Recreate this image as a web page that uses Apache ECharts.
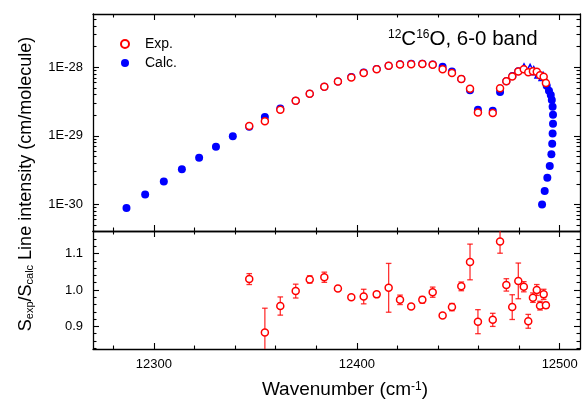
<!DOCTYPE html>
<html><head><meta charset="utf-8">
<script src="https://cdn.jsdelivr.net/npm/echarts@6/dist/echarts.min.js"></script>
<style>html,body{margin:0;padding:0;background:#fff}#c{width:583px;height:401px}</style>
</head><body><div id="c"></div>
<script>
// ---- data ----
const calcWn = [12286.5, 12295.7, 12304.9, 12313.8, 12322.3, 12330.6, 12338.9, 12347.0, 12354.7, 12362.3,
  12369.9, 12376.8, 12384.0, 12390.7, 12397.3, 12403.4, 12409.8, 12415.7, 12421.3, 12426.8,
  12432.3, 12437.4, 12442.3, 12446.9, 12451.5, 12455.8, 12459.7, 12467.0, 12470.6, 12473.7,
  12476.7, 12479.6, 12493.6, 12494.7, 12495.6, 12496.1, 12496.5, 12496.7, 12496.7, 12496.5,
  12496.3, 12495.9, 12495.1, 12493.9, 12492.6, 12491.3];
const calcS = [8.91e-31, 1.40e-30, 2.17e-30, 3.25e-30, 4.81e-30, 6.97e-30, 9.91e-30, 1.355e-29, 1.88e-29, 2.51e-29,
  3.25e-29, 4.12e-29, 5.21e-29, 6.24e-29, 7.23e-29, 8.41e-29, 9.48e-29, 1.052e-28, 1.11e-28, 1.13e-28,
  1.13e-28, 1.097e-28, 1.024e-28, 8.68e-29, 6.76e-29, 4.62e-29, 2.40e-29, 2.32e-29, 4.36e-29, 6.28e-29,
  7.48e-29, 8.79e-29, 5.40e-29, 4.56e-29, 3.94e-29, 3.33e-29, 2.66e-29, 2.03e-29, 1.51e-29, 1.08e-29,
  7.7e-30, 5.39e-30, 3.64e-30, 2.45e-30, 1.57e-30, 1.0e-30];
const headWn = [12482.4, 12485.4, 12487.2, 12489.8, 12491.8];
const headS = [9.80e-29, 9.67e-29, 8.95e-29, 8.00e-29, 7.38e-29];
const expWn = [12347.0, 12354.7, 12362.3, 12369.9, 12376.8, 12384.0, 12390.7, 12397.3, 12403.4, 12409.8,
  12415.7, 12421.3, 12426.8, 12432.3, 12437.4, 12442.3, 12446.9, 12451.5, 12455.8, 12459.7,
  12467.0, 12470.6, 12473.7, 12476.6, 12479.6, 12482.3, 12484.5, 12486.8, 12488.7, 12490.3,
  12492.1, 12493.2];
const expS = [1.40e-29, 1.64e-29, 2.40e-29, 3.25e-29, 4.12e-29, 5.21e-29, 6.24e-29, 7.12e-29, 8.3e-29, 9.4e-29,
  1.052e-28, 1.097e-28, 1.11e-28, 1.12e-28, 1.09e-28, 9.41e-29, 8.28e-29, 6.76e-29, 4.88e-29, 2.19e-29,
  2.15e-29, 4.95e-29, 6.28e-29, 7.38e-29, 8.73e-29, 9.41e-29, 8.45e-29, 8.79e-29, 8.65e-29, 7.69e-29,
  7.31e-29, 5.91e-29];
const ratio = [1.030, 0.883, 0.956, 0.997, 1.029, 1.035, 1.004, 0.980, 0.982, 0.988,
  1.006, 0.973, 0.955, 0.973, 0.994, 0.930, 0.953, 1.010, 1.077, 0.913,
  0.918, 1.133, 1.014, 0.953, 1.025, 1.009, 0.914, 0.979, 1.000, 0.957,
  0.988, 0.958];
const ratioErr = [0.015, 0.067, 0.025, 0.019, 0.010, 0.014, 0.004, 0.004, 0.020, 0.007,
  0.067, 0.013, 0.004, 0.009, 0.014, 0.004, 0.010, 0.012, 0.049, 0.033,
  0.018, 0.032, 0.017, 0.034, 0.049, 0.014, 0.019, 0.013, 0.015, 0.012,
  0.014, 0.008];
const xTickLabels = [12300, 12400, 12500];
const yTopTickExp = [-30, -29, -28];          // decades labelled 1E-30, 1E-29, 1E-28
const yBotTickLabels = [0.9, 1.0, 1.1];

const Y_TOP_MIN = 4.1e-31, Y_TOP_MAX = 6e-28;
const LMIN = Math.log10(Y_TOP_MIN), LMAX = Math.log10(Y_TOP_MAX);

// ---- tick positions ----
const xMinor = []; for (let v = 12280; v <= 12500; v += 20) if (v % 100) xMinor.push(v);
const yTopMinor = [];
[-31, -30, -29, -28].forEach(e => { for (let m = 2; m <= 9; m++) { const v = e + Math.log10(m); if (v > LMIN && v < LMAX) yTopMinor.push(v); } });
const yBotMinor = []; for (let k = 42; k <= 58; k++) { if (k % 5) yBotMinor.push(k / 50); }

const FONT = '"Liberation Sans", Arial, sans-serif';
const X_MIN = 12270, X_MAX = 12510;
const LINE = { color: '#000', width: 1.3 };

function xAx(grid, pos, ticks, len, showLine, labels) {
  return {
    type: 'value', gridIndex: grid, position: pos, min: X_MIN, max: X_MAX,
    axisLine: { show: showLine, onZero: false, lineStyle: LINE },
    axisTick: { show: true, inside: true, length: len, customValues: ticks, lineStyle: { color: '#000', width: 1.1 } },
    axisLabel: labels ? { show: true, customValues: ticks, color: '#000', fontSize: 13, fontFamily: FONT, margin: 9,
      formatter: v => String(v) } : { show: false },
    splitLine: { show: false }
  };
}
// tick/label axes for the log panel (ticks placed in decade units)
function yAxTopTicks(pos, ticks, len, labels) {
  return {
    type: 'value', gridIndex: 0, position: pos, min: LMIN, max: LMAX,
    axisLine: { show: false },
    axisTick: { show: true, inside: true, length: len, customValues: ticks, lineStyle: { color: '#000', width: 1.1 } },
    axisLabel: labels ? { show: true, customValues: ticks, color: '#000', fontSize: 13, fontFamily: FONT, margin: 10,
      formatter: v => '1E' + Math.round(v) } : { show: false },
    splitLine: { show: false }
  };
}
function yAxBot(pos, ticks, len, showLine, labels) {
  return {
    type: 'value', gridIndex: 1, position: pos, min: 0.838, max: 1.162,
    axisLine: { show: showLine, onZero: false, lineStyle: LINE },
    axisTick: { show: true, inside: true, length: len, customValues: ticks, lineStyle: { color: '#000', width: 1.1 } },
    axisLabel: labels ? { show: true, customValues: ticks, color: '#000', fontSize: 13, fontFamily: FONT, margin: 10,
      formatter: v => v.toFixed(1) } : { show: false },
    splitLine: { show: false }
  };
}

const chart = echarts.init(document.getElementById('c'), null, { renderer: 'canvas' });
chart.setOption({
  animation: false,
  backgroundColor: '#fff',
  grid: [
    { left: 93, top: 14, width: 487, height: 217 },
    { left: 93, top: 231, width: 487, height: 118 }
  ],
  xAxis: [
    xAx(0, 'bottom', xTickLabels, 6, true, false),
    xAx(0, 'bottom', xMinor, 3.5, false, false),
    xAx(0, 'top', xTickLabels, 6, true, false),
    xAx(0, 'top', xMinor, 3.5, false, false),
    xAx(1, 'bottom', xTickLabels, 6, true, true),
    xAx(1, 'bottom', xMinor, 3.5, false, false),
    xAx(1, 'top', xTickLabels, 6, true, false),
    xAx(1, 'top', xMinor, 3.5, false, false)
  ],
  yAxis: [
    { type: 'log', logBase: 10, gridIndex: 0, position: 'left', min: Y_TOP_MIN, max: Y_TOP_MAX,
      axisLine: { show: true, onZero: false, lineStyle: LINE }, axisTick: { show: false }, axisLabel: { show: false },
      splitLine: { show: false } },
    { type: 'log', logBase: 10, gridIndex: 0, position: 'right', min: Y_TOP_MIN, max: Y_TOP_MAX,
      axisLine: { show: true, onZero: false, lineStyle: LINE }, axisTick: { show: false }, axisLabel: { show: false },
      splitLine: { show: false } },
    yAxTopTicks('left', yTopTickExp, 6, true),
    yAxTopTicks('left', yTopMinor, 3.5, false),
    yAxTopTicks('right', yTopTickExp, 6, false),
    yAxTopTicks('right', yTopMinor, 3.5, false),
    yAxBot('left', yBotTickLabels, 6, true, true),
    yAxBot('left', yBotMinor, 3.5, false, false),
    yAxBot('right', yBotTickLabels, 6, true, false),
    yAxBot('right', yBotMinor, 3.5, false, false)
  ],
  legend: {
    orient: 'vertical', left: 115, top: 32, itemWidth: 30, itemHeight: 8, itemGap: 5,
    data: ['Exp.', 'Calc.'],
    textStyle: { fontSize: 14, fontFamily: FONT, color: '#000' }
  },
  graphic: [
    { type: 'text', x: 388, y: 39, style: {
      text: '{s|12}C{s|16}O, 6-0 band', fontSize: 20.5, fontFamily: FONT, fill: '#000',
      verticalAlign: 'middle', align: 'left',
      rich: { s: { fontSize: 12, fontFamily: FONT, verticalAlign: 'top', fill: '#000' } } } },
    { type: 'text', x: 26, y: 184, rotation: Math.PI / 2, style: {
      text: 'S{b|exp}/S{b|calc} Line intensity (cm/molecule)', fontSize: 18, fontFamily: FONT, fill: '#000',
      align: 'center', verticalAlign: 'middle',
      rich: { b: { fontSize: 11, fontFamily: FONT, verticalAlign: 'bottom', fill: '#000' } } } },
    { type: 'text', x: 345, y: 390, style: {
      text: 'Wavenumber (cm{p|-1})', fontSize: 19, fontFamily: FONT, fill: '#000',
      align: 'center', verticalAlign: 'middle',
      rich: { p: { fontSize: 12, fontFamily: FONT, verticalAlign: 'top', fill: '#000' } } } }
  ],
  series: [
    { name: 'Calc.', type: 'scatter', xAxisIndex: 0, yAxisIndex: 0, symbol: 'circle', symbolSize: 8,
      itemStyle: { color: '#0000ff', opacity: 1 }, data: calcWn.map((w, i) => [w, calcS[i]]) },
    { name: 'Calc. head', type: 'scatter', xAxisIndex: 0, yAxisIndex: 0, symbol: 'triangle', symbolSize: 8,
      itemStyle: { color: '#fff', borderColor: '#0000ff', borderWidth: 1.5, opacity: 1 }, data: headWn.map((w, i) => [w, headS[i]]) },
    { name: 'Exp.', type: 'scatter', xAxisIndex: 0, yAxisIndex: 0, symbol: 'circle', symbolSize: 7,
      itemStyle: { color: '#fff', borderColor: '#ff0000', borderWidth: 1.5, opacity: 1 }, data: expWn.map((w, i) => [w, expS[i]]) },
    { name: 'err', type: 'custom', xAxisIndex: 4, yAxisIndex: 6,
      data: expWn.map((w, i) => [w, ratio[i] - ratioErr[i], ratio[i] + ratioErr[i]]),
      encode: { x: 0, y: [1, 2] },
      renderItem: function (params, api) {
        const p1 = api.coord([api.value(0), api.value(1)]);
        const p2 = api.coord([api.value(0), api.value(2)]);
        const cs = params.coordSys;
        const top = cs.y, bot = cs.y + cs.height;
        const x = p1[0];
        let yLo = p1[1], yHi = p2[1];
        const capLo = yLo <= bot, capHi = yHi >= top;
        yLo = Math.min(yLo, bot); yHi = Math.max(yHi, top);
        const st = { stroke: 'rgba(255,0,0,0.8)', lineWidth: 1.3 };
        const ch = [{ type: 'line', shape: { x1: x, y1: yLo, x2: x, y2: yHi }, style: st }];
        if (capLo) ch.push({ type: 'line', shape: { x1: x - 2.8, y1: yLo, x2: x + 2.8, y2: yLo }, style: st });
        if (capHi) ch.push({ type: 'line', shape: { x1: x - 2.8, y1: yHi, x2: x + 2.8, y2: yHi }, style: st });
        return { type: 'group', children: ch };
      }, z: 1 },
    { name: 'ratio', type: 'scatter', xAxisIndex: 4, yAxisIndex: 6, symbol: 'circle', symbolSize: 7, z: 3,
      itemStyle: { color: '#fff', borderColor: '#ff0000', borderWidth: 1.5, opacity: 1 }, data: expWn.map((w, i) => [w, ratio[i]]) }
  ]
});
</script>
</body></html>
